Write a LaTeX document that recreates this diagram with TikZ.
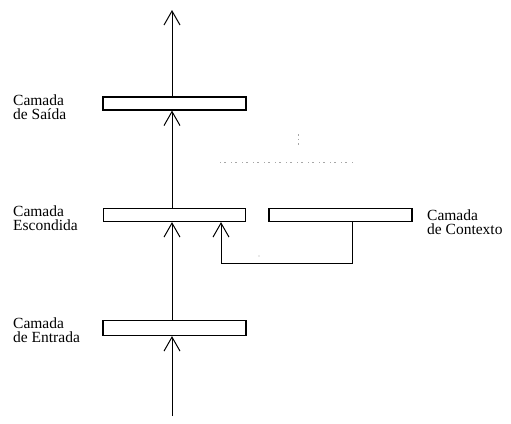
\documentclass[tikz,border=0pt]{standalone}
\usepackage{fontspec}
\setmainfont{Liberation Serif}
\usetikzlibrary{arrows.meta}
\begin{document}
\begin{tikzpicture}[x=1pt,y=-1pt,
  layer/.style={draw,line width=1.2pt,rectangle,inner sep=0pt,minimum height=13pt},
  lbl/.style={anchor=north west,inner sep=0pt,align=left,
    font=\fontsize{15.5}{14}\selectfont},
  flow/.style={line width=0.9pt,-{Straight Barb[length=14pt,width=16pt,line width=1pt]}},
  trace/.style={line width=1pt,dash pattern=on 1pt off 3pt on 2pt off 5pt,gray!70}]
\useasboundingbox (0,0) rectangle (511,423);

% layers
\node[layer,minimum width=143pt] (out) at (174.5,103.5) {};
\node[layer,minimum width=142pt] (hid) at (174.5,215) {};
\node[layer,minimum width=143pt] (ctx) at (340.5,215) {};
\node[layer,minimum width=143pt,minimum height=15pt] (in) at (174.5,328) {};

% vertical axis of the forward flow
\coordinate (axis) at (172,0);
\coordinate (top) at (172,10);
\coordinate (bottom) at (172,416);
\coordinate (fbk) at (221,0);
\coordinate (ctxdrop) at (352,0);
\coordinate (loopy) at (0,263);

% labels
\node[lbl] (lout) at (13,95) {Camada\\de Saída};
\node[lbl] (lhid) at (13,206) {Camada\\Escondida};
\node[lbl] (lctx) at (427,210) {Camada\\de Contexto};
\node[lbl] (lin)  at (13,318) {Camada\\de Entrada};

% forward connections
\draw[flow] (bottom) -- (in.south -| axis);
\draw[flow] (in.north -| axis) -- (hid.south -| axis);
\draw[flow] (hid.north -| axis) -- (out.south -| axis);
\draw[flow] (out.north -| axis) -- (top);

% recurrent copy from the context layer back to the hidden layer
\draw[flow] (ctx.south -| ctxdrop) |- (loopy -| fbk) -- (hid.south -| fbk);

% faint dotted traces
\draw[trace] (220,162) -- (353,162);
\draw[trace,dash pattern=on 1.5pt off 3pt] (298,134) -- (298,146);
\fill[gray!70] (259,256) circle (0.7pt);
\end{tikzpicture}
\end{document}
